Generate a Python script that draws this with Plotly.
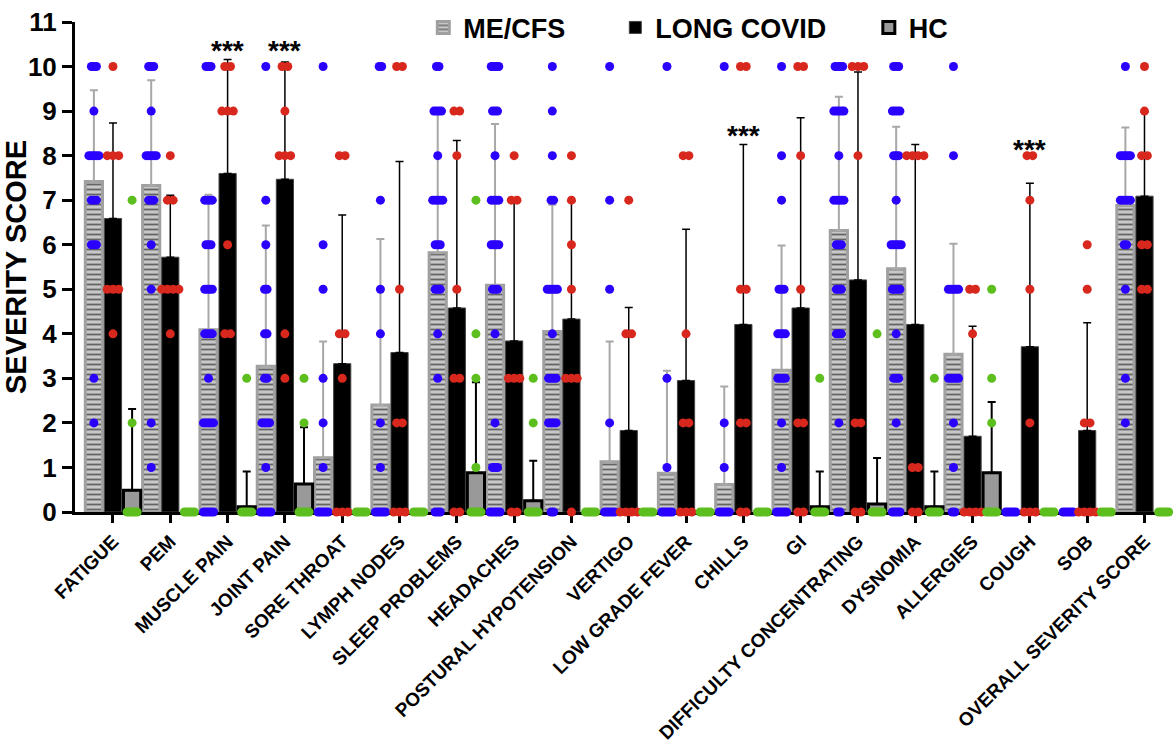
import plotly.graph_objects as go

categories = ["FATIGUE", "PEM", "MUSCLE PAIN", "JOINT PAIN", "SORE THROAT", "LYMPH NODES",
              "SLEEP PROBLEMS", "HEADACHES", "POSTURAL HYPOTENSION", "VERTIGO", "LOW GRADE FEVER",
              "CHILLS", "GI", "DIFFICULTY CONCENTRATING", "DYSNOMIA", "ALLERGIES", "COUGH", "SOB",
              "OVERALL SEVERITY SCORE"]

me_mean = [7.42, 7.33, 4.09, 3.27, 1.22, 2.40, 5.82, 5.09, 4.05, 1.13, 0.87, 0.62, 3.18, 6.32, 5.46, 3.54, 0, 0, 6.88]
me_sd   = [2.05, 2.36, 3.03, 3.16, 2.61, 3.73, 3.13, 3.62, 2.85, 2.70, 2.30, 2.20, 2.80, 3.00, 3.19, 2.48, 0, 0, 1.75]
lc_mean = [6.59, 5.72, 7.60, 7.47, 3.33, 3.58, 4.58, 3.84, 4.33, 1.83, 2.95, 4.21, 4.58, 5.21, 4.21, 1.70, 3.71, 1.83, 7.09]
lc_sd   = [2.14, 1.39, 2.56, 2.63, 3.34, 4.29, 3.76, 3.13, 2.64, 2.76, 3.40, 4.04, 4.27, 4.67, 4.04, 2.47, 3.67, 2.42, 1.89]
hc_mean = [0.49, 0, 0.12, 0.63, 0, 0, 0.88, 0.25, 0, 0, 0, 0, 0.12, 0.18, 0.12, 0.88, 0, 0, 0]
hc_sd   = [1.82, 0, 0.79, 1.27, 0, 0, 2.03, 0.90, 0, 0, 0, 0, 0.79, 1.03, 0.79, 1.59, 0, 0, 0]

# individual scores: {score: number of subjects}
me_points = [
    {10: 3, 9: 1, 8: 5, 7: 3, 6: 3, 3: 1, 2: 1},
    {10: 3, 9: 1, 8: 5, 7: 3, 6: 1, 5: 1, 2: 1, 1: 1},
    {10: 3, 7: 4, 6: 3, 5: 4, 4: 4, 3: 1, 2: 5, 0: 5},
    {10: 1, 7: 1, 6: 1, 5: 2, 4: 2, 3: 2, 2: 4, 1: 1, 0: 5},
    {10: 1, 6: 1, 5: 1, 3: 1, 2: 1, 1: 1, 0: 5},
    {10: 2, 7: 1, 5: 1, 4: 1, 2: 1, 1: 1, 0: 5},
    {10: 2, 9: 4, 8: 1, 7: 5, 6: 3, 5: 3, 4: 1, 3: 1, 0: 3},
    {10: 4, 9: 3, 8: 1, 7: 4, 6: 4, 5: 3, 4: 1, 2: 1, 1: 3, 0: 5},
    {10: 1, 9: 1, 8: 1, 7: 2, 5: 5, 4: 1, 3: 4, 2: 4, 0: 2},
    {10: 1, 7: 1, 5: 1, 2: 1, 0: 5},
    {10: 1, 3: 1, 1: 1, 0: 5},
    {10: 1, 2: 1, 1: 1, 0: 5},
    {10: 1, 8: 1, 7: 1, 5: 3, 4: 4, 3: 4, 2: 1, 1: 1, 0: 5},
    {10: 4, 9: 5, 8: 1, 7: 5, 6: 3, 5: 3, 4: 3, 2: 1, 0: 2},
    {10: 3, 9: 4, 8: 3, 7: 1, 6: 5, 5: 4, 4: 1, 3: 3, 2: 1, 0: 4},
    {10: 1, 8: 1, 5: 5, 3: 5, 2: 1, 1: 1, 0: 2},
    {0: 5},
    {0: 5},
    {10: 1, 8: 5, 7: 5, 6: 2, 5: 1, 3: 1, 2: 1},
]
lc_points = [
    {10: 1, 8: 3, 5: 3, 4: 1},
    {8: 1, 7: 2, 5: 4, 4: 1},
    {10: 2, 9: 3, 6: 1, 4: 2},
    {10: 2, 9: 1, 8: 3, 4: 1, 3: 1},
    {8: 2, 4: 2, 3: 1, 0: 3},
    {10: 2, 5: 1, 2: 2, 0: 3},
    {9: 2, 8: 1, 5: 1, 3: 2, 0: 2},
    {8: 1, 7: 2, 3: 3, 0: 2},
    {8: 1, 7: 1, 6: 1, 5: 1, 3: 3, 0: 1},
    {7: 1, 4: 2, 0: 4},
    {8: 2, 4: 1, 2: 2, 0: 3},
    {10: 2, 5: 2, 2: 2, 0: 2},
    {10: 2, 8: 1, 5: 1, 2: 2, 0: 2},
    {10: 3, 8: 1, 2: 2, 0: 2},
    {8: 4, 1: 2, 0: 2},
    {5: 2, 4: 1, 0: 4},
    {8: 2, 7: 1, 5: 1, 2: 1, 0: 3},
    {6: 1, 5: 1, 2: 2, 0: 4},
    {10: 1, 9: 1, 8: 2, 6: 2, 5: 2},
]
hc_points = [
    {7: 1, 2: 1, 0: 5},
    {0: 5},
    {3: 1, 0: 5},
    {3: 1, 2: 1, 0: 5},
    {0: 5},
    {0: 5},
    {7: 1, 4: 1, 3: 1, 1: 1, 0: 5},
    {3: 1, 2: 1, 0: 5},
    {0: 5},
    {0: 5},
    {0: 5},
    {0: 5},
    {3: 1, 0: 5},
    {4: 1, 0: 5},
    {3: 1, 0: 5},
    {5: 1, 3: 1, 2: 1, 0: 5},
    {0: 5},
    {0: 5},
    {0: 5},
]

series_names = ["ME/CFS", "LONG COVID", "HC"]
sig_categories = ["MUSCLE PAIN", "JOINT PAIN", "CHILLS", "COUGH"]
sig_level = [10.46, 10.46, 8.54, 8.22]
sig_text = "***"

FONT = "Liberation Sans, Arial, sans-serif"
BLUE = "#2a00ff"
RED = "#d8281e"
GREEN = "#5cbf1e"
NB = "\u00a0"

idx = list(range(len(categories)))
OFF = 1.0 / 3.0


def swarm(points_list, offset, spacing):
    xs, ys = [], []
    for i, pts in enumerate(points_list):
        for v, n in pts.items():
            for k in range(n):
                xs.append(i + offset + (k - (n - 1) / 2.0) * spacing)
                ys.append(v)
    return xs, ys


fig = go.Figure()

fig.add_trace(go.Bar(
    name=series_names[0] + NB * 6, x=idx, y=me_mean,
    marker=dict(color="#c4c4c4", line=dict(color="#a0a0a0", width=3),
                pattern=dict(shape="-", fgcolor="#000000", bgcolor="#c8c8c8", size=5, solidity=0.36)),
    error_y=dict(type="data", symmetric=False, array=me_sd, arrayminus=[0] * len(me_sd),
                 color="#a8a8a8", thickness=2, width=4),
))
fig.add_trace(go.Bar(
    name=series_names[1] + NB * 5, x=idx, y=lc_mean,
    marker=dict(color="#000000", line=dict(color="#444444", width=1)),
    error_y=dict(type="data", symmetric=False, array=lc_sd, arrayminus=[0] * len(lc_sd),
                 color="#000000", thickness=1.5, width=4),
))
fig.add_trace(go.Bar(
    name=series_names[2], x=idx, y=hc_mean,
    marker=dict(color="#999999", line=dict(color="#000000", width=3)),
    error_y=dict(type="data", symmetric=False, array=hc_sd, arrayminus=[0] * len(hc_sd),
                 color="#000000", thickness=2, width=4),
))

for pts, off, col, sp in [(me_points, -OFF, BLUE, 0.044), (lc_points, 0.0, RED, 0.1), (hc_points, OFF, GREEN, 0.044)]:
    xs, ys = swarm(pts, off, sp)
    fig.add_trace(go.Scatter(x=xs, y=ys, mode="markers", showlegend=False, cliponaxis=False,
                             marker=dict(color=col, size=9, line=dict(width=0)), hoverinfo="y"))

for c, lv in zip(sig_categories, sig_level):
    fig.add_annotation(x=categories.index(c), y=lv, text=sig_text, showarrow=False,
                       font=dict(family=FONT, size=28, color="black", weight="bold"),
                       yanchor="middle", yshift=-4)

fig.update_layout(
    width=1176, height=755,
    margin=dict(l=75, r=4, t=22, b=243, pad=0, autoexpand=False),
    paper_bgcolor="white", plot_bgcolor="white",
    barmode="group", bargap=0.0, bargroupgap=0.1,
    font=dict(family=FONT, color="black"),
    showlegend=True,
    legend=dict(orientation="h", x=0.3175, xanchor="left", y=0.988, yanchor="middle",
                font=dict(family=FONT, size=27, color="black", weight="bold"),
                bgcolor="rgba(0,0,0,0)"),
)
fig.update_xaxes(
    range=[-0.663, 18.48], tickmode="array", tickvals=idx, ticktext=categories,
    tickangle=-45, tickfont=dict(family=FONT, size=19, color="black", weight="bold"),
    showline=True, linecolor="black", linewidth=3, ticks="outside", ticklen=8, tickwidth=3,
    tickcolor="black", showgrid=False, zeroline=False, layer="below traces", automargin=False,
)
fig.update_yaxes(
    range=[0, 11], dtick=1, tick0=0,
    tickfont=dict(family=FONT, size=26, color="black", weight="bold"),
    title=dict(text="SEVERITY SCORE", font=dict(family=FONT, size=29, color="black", weight="bold"), standoff=3),
    showline=True, linecolor="black", linewidth=3, ticks="outside", ticklen=10, tickwidth=3,
    tickcolor="black", showgrid=False, zeroline=False, layer="below traces", automargin=False,
)

fig.write_html("out.html", config={"displayModeBar": False},
               post_script="document.body.style.margin='0';document.body.style.overflow='hidden';")
